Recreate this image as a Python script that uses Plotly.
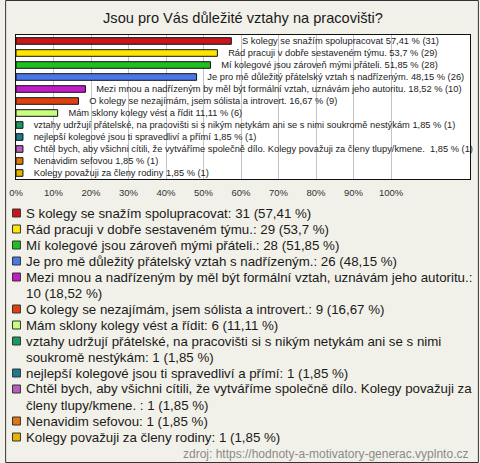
import plotly.graph_objects as go

# ---------------- data ----------------
title_text = "Jsou pro Vás důležité vztahy na pracovišti?"
labels = [
    "S kolegy se snažím spolupracovat",
    "Rád pracuji v dobře sestaveném týmu.",
    "Mí kolegové jsou zároveň mými přáteli.",
    "Je pro mě důležitý přátelský vztah s nadřízeným.",
    "Mezi mnou a nadřízeným by měl být formální vztah, uznávám jeho autoritu.",
    "O kolegy se nezajímám, jsem sólista a introvert.",
    "Mám sklony kolegy vést a řídit",
    "vztahy udržují přátelské, na pracovišti si s nikým netykám ani se s nimi soukromě nestýkám",
    "nejlepší kolegové jsou ti spravedliví a přímí",
    "Chtěl bych, aby všichni cítili, že vytváříme společně dílo. Kolegy považuji za členy tlupy/kmene. ",
    "Nenavidim sefovou",
    "Kolegy považuji za členy rodiny",
]
counts = [31, 29, 28, 26, 10, 9, 6, 1, 1, 1, 1, 1]
percents = [57.41, 53.7, 51.85, 48.15, 18.52, 16.67, 11.11, 1.85, 1.85, 1.85, 1.85, 1.85]
colors = ["#c8161d", "#ffe600", "#1fbf1f", "#4a78e8", "#c21bc8", "#e0400f",
          "#c8ff80", "#1a9a5e", "#1f7a8c", "#b85cc0", "#e07812", "#e6b400"]
tick_values = [0, 10, 20, 30, 40, 50, 60, 70, 80, 90, 100]
tick_labels = ["0%", "10%", "20%", "30%", "40%", "50%", "60%", "70%", "80%", "90%", "100%"]
source_text = "zdroj: https://hodnoty-a-motivatory-generac.vyplnto.cz"

# ---------------- geometry ----------------
W, H = 480, 463
ML, MR, MT, MB = 11, 9, 35, 284
PW, PH = W - ML - MR, H - MT - MB
FONT = "Arial, Liberation Sans, sans-serif"
BG = "#f2f1e9"


def px_x(px):
    return (px - ML) / PW


def px_y(py):
    return (H - MB - py) / PH


def fmt(v):
    return f"{v:g}".replace(".", ",")


n = len(labels)
ypos = list(range(n))
bar_text = ["\u00a0\u00a0\u00a0" + f"{l} {fmt(p)} % ({c})" for l, c, p in zip(labels, counts, percents)]

fig = go.Figure()
fig.add_trace(go.Bar(
    x=percents, y=ypos, orientation="h", width=0.55,
    marker=dict(color=colors, line=dict(color="#111111", width=1)),
    text=bar_text, textposition="outside", constraintext="none", cliponaxis=False,
    textfont=dict(family=FONT, size=9.3, color="#222222"),
    hoverinfo="skip", showlegend=False,
))

# ---------------- legend (drawn as shapes + text) ----------------
def char_w(ch):
    if ch in "ijlíĺ'": return 222
    if ch in " .,:;/tf!I[]": return 278
    if ch in "r()-ř": return 333
    if ch in "kcsvxyzýžščJ": return 500
    if ch in "mM": return 833
    if ch == "w": return 722
    if ch == "%": return 889
    if ch.isupper(): return 667
    return 556


LEG_SIZE = 13.3


def text_w(s):
    return sum(char_w(c) for c in s) * LEG_SIZE / 1000


def wrap(s, limit):
    words = s.split(" ")
    lines, cur = [], ""
    for w in words:
        cand = w if cur == "" else cur + " " + w
        if cur and text_w(cand) > limit:
            lines.append(cur)
            cur = w
        else:
            cur = cand
    lines.append(cur)
    return lines


shapes = []
annotations = []
line_y = 213
LINE_H = 16
for l, c, p, col in zip(labels, counts, percents, colors):
    entry = f"{l}: {c} ({fmt(p)} %)"
    lines = wrap(entry, 452)
    shapes.append(dict(type="rect", xref="paper", yref="paper",
                       x0=px_x(7.5), x1=px_x(15.5), y0=px_y(line_y + 4), y1=px_y(line_y - 4),
                       fillcolor=col, line=dict(color="#333333", width=1)))
    for ln in lines:
        annotations.append(dict(text=ln, xref="paper", yref="paper", x=px_x(19), y=px_y(line_y),
                                xanchor="left", yanchor="middle", showarrow=False,
                                font=dict(family=FONT, size=LEG_SIZE, color="#1a1a1a")))
        line_y += LINE_H

# source footer
annotations.append(dict(text=source_text, xref="paper", yref="paper", x=px_x(471), y=px_y(454),
                        xanchor="right", yanchor="middle", showarrow=False,
                        font=dict(family=FONT, size=12, color="#8a8a8a")))

# outer frame of the whole image
shapes.append(dict(type="rect", xref="paper", yref="paper",
                   x0=px_x(0.5), x1=px_x(W - 0.5), y0=px_y(H - 0.5), y1=px_y(0.5),
                   line=dict(color="#333333", width=1), fillcolor="rgba(0,0,0,0)", layer="below"))

fig.update_layout(
    width=W, height=H, autosize=False,
    margin=dict(l=ML, r=MR, t=MT, b=MB, pad=0),
    paper_bgcolor=BG, plot_bgcolor="white",
    title=dict(text=title_text, x=0.5, xref="paper", xanchor="center",
               y=1 - 18 / H, yanchor="middle",
               font=dict(family=FONT, size=14.6, color="#1a1a1a")),
    xaxis=dict(range=[0, PW / 3.8], tickmode="array", tickvals=tick_values, ticktext=tick_labels,
               showgrid=True, gridcolor="#c4c4c4", gridwidth=1, zeroline=False,
               showline=True, linecolor="#111111", linewidth=1, mirror=True,
               ticks="", ticklabelstandoff=5,
               tickfont=dict(family=FONT, size=9.5, color="#333333"),
               fixedrange=True),
    yaxis=dict(range=[n - 0.5, -0.5], showticklabels=False, showgrid=False, zeroline=False,
               showline=True, linecolor="#111111", linewidth=1, mirror=True, ticks="",
               fixedrange=True),
    shapes=shapes, annotations=annotations,
    showlegend=False,
)

fig.write_html("out.html", config={"displayModeBar": False},
               post_script="document.body.style.margin='0';document.body.style.overflow='hidden';")
